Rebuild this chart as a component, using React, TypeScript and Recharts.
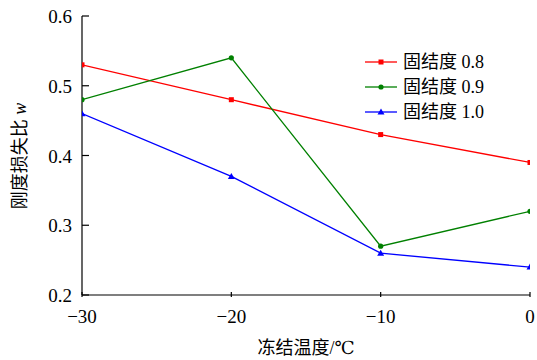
import React from 'react';
import { LineChart, Line, XAxis, YAxis } from 'recharts';

// freezing temperature (°C)
const temperatures = [-30, -20, -10, 0];
// stiffness loss ratio w for each consolidation degree
const ratio08 = [0.53, 0.48, 0.43, 0.39];
const ratio09 = [0.48, 0.54, 0.27, 0.32];
const ratio10 = [0.46, 0.37, 0.26, 0.24];

const xTicks = [-30, -20, -10, 0];
const yTicks = [0.2, 0.3, 0.4, 0.5, 0.6];

const SERIES = [
  { key: 'd08', name: '固结度 0.8', color: '#ff0000', shape: 'square' },
  { key: 'd09', name: '固结度 0.9', color: '#008000', shape: 'circle' },
  { key: 'd10', name: '固结度 1.0', color: '#0000ff', shape: 'triangle' },
];

const data = temperatures.map((t, i) => ({
  t,
  d08: ratio08[i],
  d09: ratio09[i],
  d10: ratio10[i],
}));

const FONT = 'Times New Roman, Liberation Serif, DejaVu Serif, Noto Sans CJK SC, serif';
const txt = { fontFamily: FONT, fontSize: 19, fill: '#000' };

const Marker = ({ cx, cy, color, shape }: any) => {
  if (cx == null || cy == null) return null;
  if (shape === 'square') return <rect x={cx - 2.5} y={cy - 2.5} width={5} height={5} fill={color} />;
  if (shape === 'triangle')
    return <polygon points={`${cx},${cy - 3.5} ${cx - 3.5},${cy + 2.5} ${cx + 3.5},${cy + 2.5}`} fill={color} />;
  return <circle cx={cx} cy={cy} r={2.6} fill={color} />;
};

const fmtX = (v: number) => (v < 0 ? `\u2212${Math.abs(v)}` : `${v}`);

// ticks point into the plot area
const YTick = ({ x, y, payload }: any) => (
  <g>
    <line x1={x + 10} x2={x + 17} y1={y} y2={y} stroke="#000" strokeWidth={1.2} />
    <text x={x} y={y} dy="0.38em" textAnchor="end" style={txt}>
      {payload.value.toFixed(1)}
    </text>
  </g>
);

const XTick = ({ x, y, payload }: any) => (
  <g>
    <line x1={x} x2={x} y1={y} y2={y - 5} stroke="#000" strokeWidth={1.2} />
    <text x={x} y={y + 12} dy="0.75em" textAnchor="middle" style={txt}>
      {fmtX(payload.value)}
    </text>
  </g>
);

const legendX = 365;
const legendY = 62;

export default function App() {
  return (
    <div style={{ position: 'absolute', left: 0, top: 0, width: 537, height: 360, background: '#fff' }}>
      <LineChart width={537} height={360} data={data} margin={{ top: 16, right: 7, bottom: 20, left: 0 }}>
        <XAxis
          dataKey="t"
          type="number"
          domain={[-30, 0]}
          ticks={xTicks}
          tick={<XTick />}
          tickLine={false}
          tickSize={0}
          height={45}
          axisLine={{ stroke: '#000', strokeWidth: 1.2 }}
          allowDataOverflow
        />
        <YAxis
          type="number"
          domain={[0.2, 0.6]}
          ticks={yTicks}
          tick={<YTick />}
          tickLine={false}
          tickSize={0}
          tickMargin={10}
          width={82}
          axisLine={{ stroke: '#000', strokeWidth: 1.2 }}
        />
        {SERIES.map((s) => (
          <Line
            key={s.key}
            dataKey={s.key}
            name={s.name}
            type="linear"
            stroke={s.color}
            strokeWidth={1.3}
            dot={<Marker color={s.color} shape={s.shape} />}
            activeDot={false}
            isAnimationActive={false}
          />
        ))}
        {SERIES.map((s, i) => {
          const y = legendY + i * 25;
          return (
            <g key={`lg-${s.key}`}>
              <line x1={legendX} x2={legendX + 32} y1={y} y2={y} stroke={s.color} strokeWidth={1.3} />
              <Marker cx={legendX + 16} cy={y} color={s.color} shape={s.shape} />
              <text x={legendX + 38} y={y} dy="0.36em" style={{ ...txt, fontSize: 18 }}>
                {s.name}
              </text>
            </g>
          );
        })}
        <text x={20} y={156} transform="rotate(-90 20 156)" textAnchor="middle" dy="0.35em" style={{ ...txt, fontSize: 18 }}>
          刚度损失比 <tspan fontStyle="italic">w</tspan>
        </text>
        <text x={306} y={348} textAnchor="middle" dy="0.35em" style={{ ...txt, fontSize: 18 }}>
          冻结温度/℃
        </text>
      </LineChart>
    </div>
  );
}
